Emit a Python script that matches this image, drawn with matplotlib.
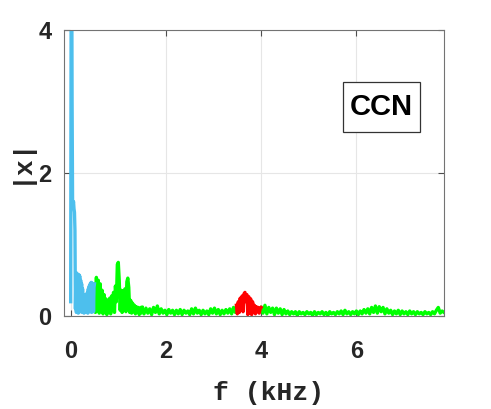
import numpy as np
import matplotlib
matplotlib.use('Agg')
import matplotlib.pyplot as plt
from matplotlib.patches import Rectangle

# spectrum magnitude |x|, per coloured band
# blue band: 0.00 .. 0.50 kHz, step 0.01
blue_start, blue_step = 0.00, 0.01
blue_y = [0.2, 4.5, 5.5, 3.0, 1.62, 1.55, 1.6, 1.5, 1.45, 1.2,
          0.1, 0.58, 0.05, 0.6, 0.2, 0.57, 0.04, 0.58, 0.25, 0.56,
          0.06, 0.5, 0.15, 0.45, 0.05, 0.38, 0.12, 0.3, 0.04, 0.28,
          0.1, 0.25, 0.05, 0.3, 0.12, 0.33, 0.04, 0.38, 0.15, 0.42,
          0.06, 0.45, 0.2, 0.47, 0.05, 0.46, 0.25, 0.44, 0.06, 0.4,
          0.45]

# green band 1: 0.50 .. 1.50 kHz, step 0.02
g1_start, g1_step = 0.50, 0.02
g1_y = [0.45, 0.05, 0.54, 0.2, 0.5, 0.04, 0.45, 0.12, 0.36, 0.03,
        0.3, 0.1, 0.24, 0.02, 0.22, 0.08, 0.25, 0.03, 0.28, 0.1,
        0.33, 0.05, 0.42, 0.2, 0.72, 0.75, 0.5, 0.08, 0.36, 0.05,
        0.35, 0.1, 0.38, 0.06, 0.48, 0.53, 0.4, 0.05, 0.22, 0.04,
        0.18, 0.06, 0.15, 0.03, 0.13, 0.05, 0.12, 0.02, 0.11, 0.04,
        0.12]

# green band 2: 1.50 .. 3.48 kHz, step 0.04 (roughly)
g2_start, g2_step = 1.50, 0.04
g2_y = [0.12, 0.03, 0.11, 0.04, 0.1, 0.02, 0.12, 0.05, 0.14, 0.03,
        0.1, 0.04, 0.08, 0.02, 0.09, 0.04, 0.08, 0.02, 0.08, 0.03,
        0.09, 0.02, 0.08, 0.04, 0.07, 0.02, 0.1, 0.03, 0.11, 0.04,
        0.08, 0.02, 0.08, 0.03, 0.07, 0.02, 0.1, 0.04, 0.11, 0.03,
        0.09, 0.02, 0.08, 0.03, 0.09, 0.04, 0.1, 0.03, 0.12, 0.05,
        0.15]

# red band: 3.48 .. 4.00 kHz, step 0.02
red_start, red_step = 3.48, 0.02
red_y = [0.15, 0.03, 0.2, 0.05, 0.25, 0.1, 0.28, 0.06, 0.31, 0.33,
         0.2, 0.3, 0.02, 0.27, 0.04, 0.24, 0.02, 0.2, 0.05, 0.15,
         0.03, 0.13, 0.06, 0.12, 0.04, 0.1, 0.12]

# green band 3: 4.00 .. 7.84 kHz, step 0.04
g3_start, g3_step = 4.00, 0.04
g3_y = [0.12, 0.04, 0.15, 0.03, 0.12, 0.05, 0.11, 0.02, 0.11, 0.04,
        0.1, 0.02, 0.09, 0.03, 0.07, 0.02, 0.06, 0.03, 0.06, 0.01,
        0.06, 0.03, 0.05, 0.02, 0.06, 0.03, 0.05, 0.01, 0.06, 0.02,
        0.05, 0.03, 0.06, 0.02, 0.05, 0.01, 0.06, 0.03, 0.05, 0.02,
        0.06, 0.03, 0.07, 0.02, 0.08, 0.03, 0.06, 0.02, 0.06, 0.03,
        0.07, 0.02, 0.07, 0.03, 0.09, 0.04, 0.1, 0.03, 0.12, 0.05,
        0.14, 0.04, 0.13, 0.06, 0.12, 0.03, 0.1, 0.04, 0.08, 0.02,
        0.07, 0.03, 0.08, 0.02, 0.07, 0.03, 0.06, 0.02, 0.07, 0.03,
        0.06, 0.02, 0.06, 0.03, 0.05, 0.02, 0.06, 0.03, 0.05, 0.02,
        0.06, 0.03, 0.08, 0.12, 0.04, 0.07, 0.05]

xticks = [0, 2, 4, 6]
yticks = [0, 2, 4]
label_text = 'CCN'

blue = (0.30, 0.75, 0.93)
green = (0.0, 1.0, 0.0)
red = (1.0, 0.0, 0.0)
dark = (0.15, 0.15, 0.15)

fig = plt.figure(figsize=(4.91, 4.09), dpi=100)
ax = fig.add_axes([64/491, 93/409, 380/491, 286/409])

bands = [(g1_start, g1_step, g1_y, green),
         (g2_start, g2_step, g2_y, green),
         (g3_start, g3_step, g3_y, green),
         (red_start, red_step, red_y, red),
         (blue_start, blue_step, blue_y, blue)]
for start, step, y, col in bands:
    f = start + step*np.arange(len(y))
    ax.plot(f, y, color=col, lw=2.4)

ax.set_xlim(-0.14, 7.84)
ax.set_ylim(0, 4)
ax.set_xticks(xticks)
ax.set_yticks(yticks)
ax.grid(True, color=(0.9, 0.9, 0.9), lw=0.8)
ax.set_axisbelow(True)
for s in ax.spines.values():
    s.set_color((0.45, 0.45, 0.45))
    s.set_linewidth(0.8)
ax.tick_params(direction='in', length=4, width=0.8, color=(0.3, 0.3, 0.3),
               top=True, right=True)
ax.tick_params(axis='x', pad=17)
ax.tick_params(axis='y', pad=9)
for t in ax.get_xticklabels() + ax.get_yticklabels():
    t.set_fontfamily('Liberation Sans')
    t.set_fontweight('bold')
    t.set_fontsize(17)
    t.set_color(dark)

fig.text(269/491, 1 - 393/409, 'f (kHz)', family='Liberation Mono',
         weight='bold', fontsize=19, ha='center', va='center', color=dark)
fig.text(20/491, 1 - 160/409, '|x|', family='Liberation Mono',
         weight='bold', fontsize=19, ha='center', va='center',
         rotation=90, color=dark)

# label box
ax.add_patch(Rectangle((5.71, 2.57), 1.62, 0.70, fc='white',
                       ec=(0.2, 0.2, 0.2), lw=0.9, zorder=5))
ax.text(6.52, 2.92, label_text, family='Liberation Sans', weight='bold',
        fontsize=21, ha='center', va='center', color='black', zorder=6)

fig.savefig('out.png', dpi=100)
